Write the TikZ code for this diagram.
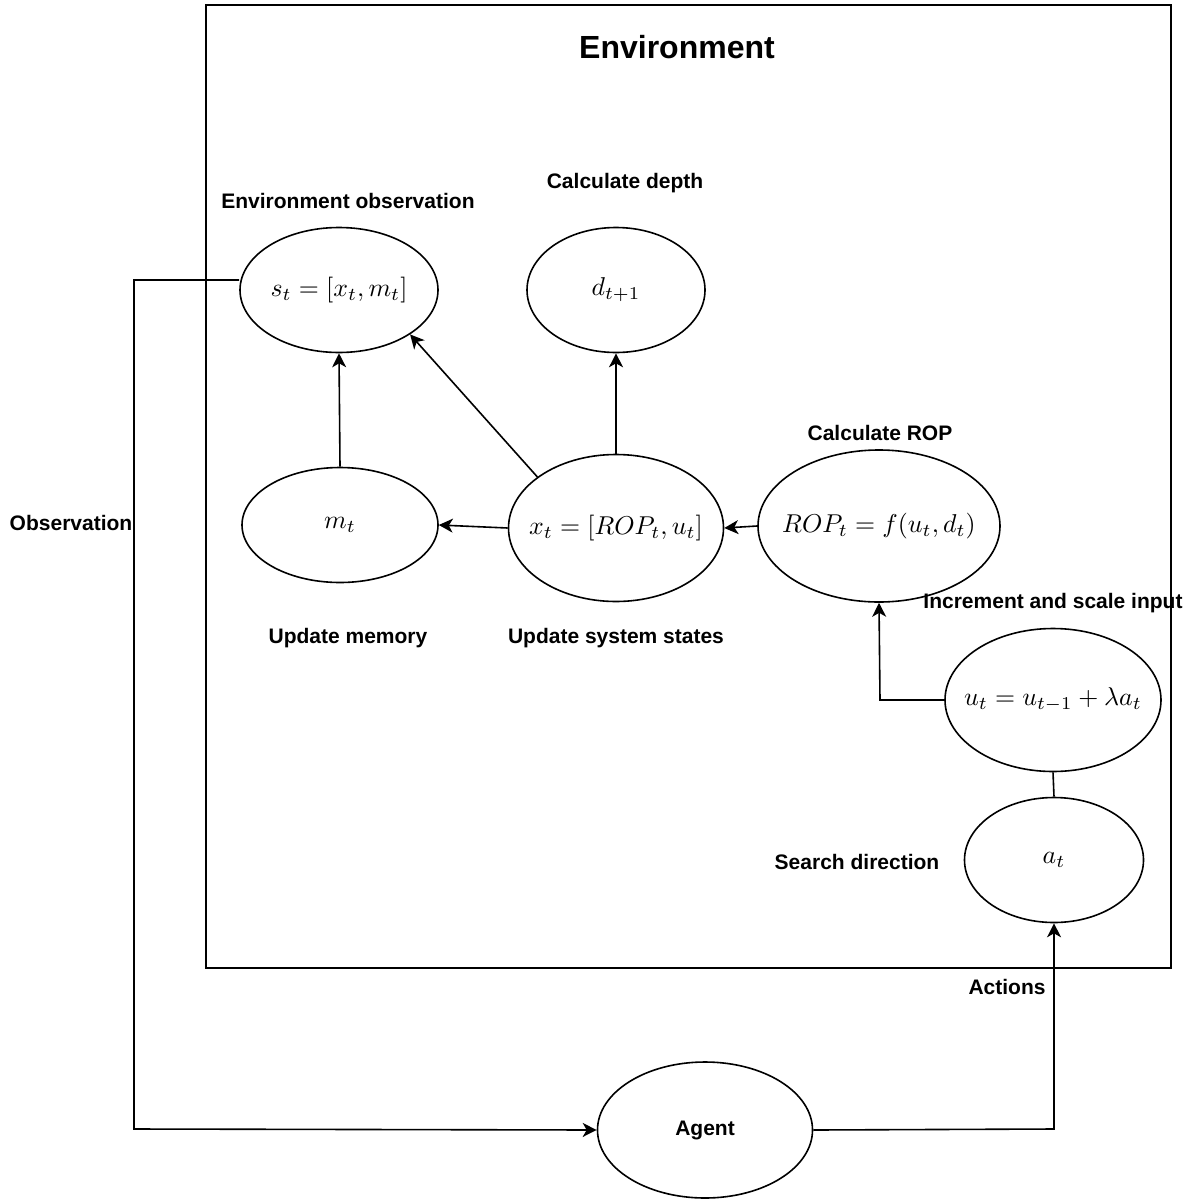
\documentclass[tikz,border=0pt]{standalone}
\usepackage{graphicx}
\usepackage{fontspec}
\newfontfamily\labfont{Liberation Sans}
\usetikzlibrary{shapes.geometric,arrows.meta,calc}
\newcommand\mymath[1]{\scalebox{2.58}{$#1$}}
\tikzset{
  ell/.style={ellipse, draw, line width=1.6pt, inner sep=0pt},
  lab/.style={font=\labfont\bfseries\fontsize{21}{25}\selectfont, inner sep=0pt},
  con/.style={line width=1.6pt},
  arr/.style={con, -{Stealth[length=14pt,width=14pt,inset=4pt]}},
}
\begin{document}
\begin{tikzpicture}[x=1pt,y=-1pt]
\useasboundingbox (0,0) rectangle (1202,1202);
\node[draw, line width=1.6pt, minimum width=965pt, minimum height=963pt, inner sep=0pt, anchor=north west] (env) at (205,4) {};
\node[font=\labfont\bfseries\fontsize{32}{38}\selectfont, inner sep=0pt] (title) at (677,47) {Environment};

\node[ell, minimum width=198pt, minimum height=125pt, label={center:\mymath{s_t=[x_t,m_t]}}] (st) at (339,290) {};
\node[ell, minimum width=178pt, minimum height=125pt, label={center:\mymath{d_{t+1}}}] (d) at (616,290) {};
\node[ell, minimum width=196pt, minimum height=115pt, label={center:\mymath{m_t}}] (m) at (340,525) {};
\node[ell, minimum width=215pt, minimum height=147pt, label={center:\mymath{x_t=[ROP_t,u_t]}}] (x) at (616,528) {};
\node[ell, minimum width=242pt, minimum height=152pt, label={center:\mymath{ROP_t=f(u_t,d_t)}}] (rop) at (879,526) {};
\node[ell, minimum width=216pt, minimum height=143pt, label={center:\mymath{u_t=u_{t-1}+\lambda a_t}}] (u) at (1053,700) {};
\node[ell, minimum width=179pt, minimum height=125pt, label={center:\mymath{a_t}}] (a) at (1054,860) {};
\node[ell, minimum width=215pt, minimum height=136pt, font=\labfont\bfseries\fontsize{21}{25}\selectfont] (agent) at (705,1130) {Agent};

\node[lab] (l1) at (348,201) {Environment observation};
\node[lab] (l2) at (625,183) {Calculate depth};
\node[lab] (l3) at (880,433) {Calculate ROP};
\node[lab] (l4) at (1053,603) {Increment and scale input};
\node[lab] (l5) at (348,638) {Update memory};
\node[lab] (l6) at (616,638) {Update system states};
\node[lab] (l7) at (857,862) {Search direction};
\node[lab] (l8) at (1007,987) {Actions};
\node[lab] (l9) at (71,523) {Observation};

\coordinate (c1) at (134,280);
\coordinate (c2) at (134,1129);
\draw[arr] ([yshift=10pt]st.west) -- (c1) -- (c2) -- (agent.west);
\coordinate (c3) at (1054,1129);
\draw[arr] (agent.east) -- (c3) -- (a.south);
\draw[con] (a.north) -- (u.south);
\coordinate (c4) at (880,700);
\draw[arr] (u.west) -- (c4) -- (rop.south);
\draw[arr] (rop.west) -- (x.east);
\draw[arr] (x.west) -- (m.east);
\draw[arr] (x.north) -- (d.south);
\draw[arr] (x.147) -- (st.-32);
\draw[arr] (m.north) -- (st.south);
\end{tikzpicture}
\end{document}
